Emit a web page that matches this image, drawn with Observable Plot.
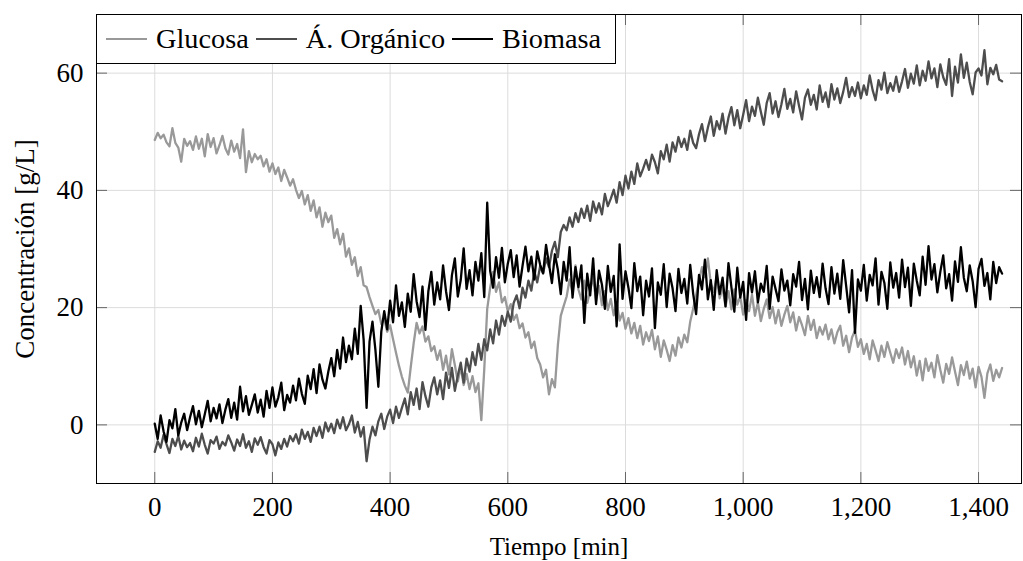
<!DOCTYPE html>
<html>
<head>
<meta charset="utf-8">
<script src="https://cdn.jsdelivr.net/npm/d3@7"></script>
<script src="https://cdn.jsdelivr.net/npm/@observablehq/plot@0.6"></script>
<style>
  html, body { margin: 0; padding: 0; background: #fff; }
  #wrap { position: relative; width: 1023px; height: 561px; }
  .legend {
    position: absolute; left: 96px; top: 14px; height: 50px; box-sizing: border-box;
    border: 1px solid #000; background: #fff; display: flex; align-items: center;
    padding: 0 14px 0 9px; font-family: "Liberation Serif", serif; font-size: 28.3px; color: #000;
    white-space: nowrap;
  }
  .legend .sw { display: inline-block; width: 41px; height: 2px; margin-right: 9px; }
  .legend .lab { margin-right: 7px; }
  .legend .lab:last-child { margin-right: 0; }
</style>
</head>
<body>
<div id="wrap"></div>
<script>
// ---- data (sampled every 5 min, 0..1440) ----
const glucosa = [
  48.6, 49.8, 48.9, 49.5, 48.2, 47.5, 50.6, 48.1, 47.3, 44.9, 48.8, 47.6,
  48.4, 46.9, 49.2, 47.1, 48.8, 45.8, 49.6, 47.4, 48.9, 46.3, 47.7, 49.3,
  47.2, 46.1, 48.5, 46.6, 47.9, 45.5, 50.4, 43.1, 46.7, 44.8, 46.2, 45.3,
  45.9, 44.1, 45.3, 43.2, 44.6, 42.8, 43.9, 41.6, 43.5, 42.2, 40.8, 41.9,
  40.1, 38.7, 39.9, 37.6, 39.2, 36.5, 38.3, 35.4, 37.1, 33.8, 36.2, 34.6,
  35.7, 31.9, 33.4, 30.8, 32.6, 28.7, 30.1, 27.3, 28.6, 25.4, 26.9, 23.8,
  23.5, 21.8, 20.3, 18.9, 19.6, 17.2, 18.1, 15.9, 17.0, 14.6, 12.3, 10.1,
  8.2, 6.7, 5.5, 9.8, 13.9, 17.4, 15.6, 16.8, 14.2, 15.1, 12.6, 13.4,
  11.1, 12.7, 9.4, 11.8, 8.6, 12.9, 10.2, 7.4, 9.9, 6.8, 8.7, 6.1,
  8.3, 5.6, 7.1, 0.8, 9.5, 19.8, 23.4, 26.1, 22.7, 24.3, 20.9, 21.8,
  19.4, 20.6, 17.9, 18.8, 16.5, 17.3, 14.9, 15.8, 13.1, 14.2, 11.4, 10.3,
  8.1, 9.4, 5.2, 7.8, 6.4, 13.5, 18.6, 20.3, 21.9, 24.8, 22.6, 27.2,
  23.1, 21.4, 24.6, 20.8, 22.9, 25.3, 21.2, 23.7, 20.4, 22.8, 19.6, 21.5,
  18.7, 20.9, 17.8, 19.1, 16.4, 18.2, 15.6, 17.4, 14.8, 16.9, 13.7, 15.8,
  14.3, 16.2, 12.9, 15.1, 11.6, 14.4, 12.8, 10.9, 13.6, 11.8, 14.9, 13.2,
  15.4, 14.1, 17.6, 19.8, 22.1, 24.6, 26.9, 25.2, 28.4, 24.1, 22.7, 25.3,
  21.6, 23.4, 20.2, 22.8, 19.7, 23.1, 20.5, 21.9, 18.8, 21.3, 19.4, 22.2,
  18.6, 20.9, 17.7, 19.8, 21.4, 18.2, 20.1, 17.3, 19.6, 16.9, 18.8, 20.3,
  17.5, 19.2, 16.1, 18.4, 17.0, 15.3, 18.6, 16.2, 17.9, 14.8, 16.7, 15.4,
  17.1, 14.6, 16.3, 13.9, 15.8, 16.9, 13.5, 15.2, 12.4, 14.9, 16.1, 13.3,
  14.6, 12.1, 13.8, 11.2, 14.4, 12.7, 10.9, 13.5, 11.6, 14.1, 12.3, 10.6,
  12.9, 11.4, 13.2, 10.3, 12.6, 9.8, 11.7, 8.4, 10.9, 7.6, 11.3, 9.2,
  10.6, 8.1, 11.9, 9.4, 7.2, 10.4, 8.7, 11.5, 9.1, 6.8, 10.2, 8.5,
  10.8, 7.9, 9.6, 6.4, 9.9, 8.2, 4.6, 8.8, 10.3, 7.5, 9.4, 8.1,
  9.7
];
const organico = [
  -4.6, -2.8, -3.9, -1.7, -3.3, -4.8, -2.4, -3.6, -1.9, -4.2, -2.7, -3.8,
  -3.1, -4.5, -2.2, -3.7, -1.5, -3.4, -4.9, -2.6, -3.2, -2.0, -4.1, -2.9,
  -3.5, -1.8, -3.0, -4.4, -2.5, -3.6, -1.6, -3.9, -2.8, -4.6, -2.3, -3.4,
  -2.1, -3.8, -4.9, -2.6, -3.3, -5.2, -3.0, -4.1, -2.4, -3.7, -1.9, -2.8,
  -1.6, -3.2, -0.8, -2.4, -1.2, -2.9, -0.5, -1.9, -0.3, -2.2, 0.4, -1.1,
  0.2, -1.4, 0.9, -0.6, 1.3, -0.9, 0.1, 1.6, -1.3, 0.5, -2.0, -0.4,
  -6.2, -2.5, -0.3, -1.8, 0.6, 1.9, -0.7, 1.4, 2.6, 0.3, 3.1, 1.2,
  2.9, 4.5, 1.8, 5.6, 3.4, 6.2, 2.7, 7.3, 4.9, 3.1, 6.4, 8.1,
  5.2, 7.6, 4.4, 8.9, 6.3, 9.7, 5.8, 8.4, 10.6, 7.2, 11.3, 9.1,
  12.4, 10.2, 13.8, 11.1, 14.6, 12.7, 16.3, 13.9, 17.8, 15.4, 18.6, 16.9,
  19.3, 17.6, 20.8, 22.1, 19.9, 23.4, 21.7, 24.6, 22.9, 26.2, 24.3, 27.1,
  25.8, 28.4, 26.9, 29.7, 31.2, 28.6, 32.9, 34.1, 33.2, 35.4, 33.8, 36.1,
  34.6, 36.9, 35.3, 37.4, 34.8, 38.1, 36.2, 37.8, 35.9, 39.4, 37.3, 38.6,
  40.1, 37.9, 41.4, 39.2, 42.5, 40.3, 43.2, 41.1, 44.6, 42.4, 43.7, 45.2,
  43.5, 46.1, 44.8, 42.9, 46.7, 45.3, 47.8, 44.9, 48.2, 46.6, 49.1, 47.4,
  48.8, 46.9, 50.2, 48.1, 47.2, 49.6, 51.3, 48.4, 50.7, 52.6, 49.3, 51.8,
  50.4, 53.1, 49.7, 52.4, 54.2, 51.1, 53.7, 50.6, 52.9, 55.4, 51.8, 54.3,
  52.7, 55.8, 53.4, 51.2, 54.9, 56.6, 53.1, 55.2, 52.5, 54.7, 57.3, 53.9,
  55.6, 53.3, 56.9, 54.4, 52.1, 55.8, 57.2, 54.6, 56.3, 53.8, 57.9, 55.1,
  56.7, 54.2, 58.1, 55.5, 57.4, 54.9, 56.8, 59.2, 55.9, 57.6, 56.1, 58.4,
  55.7, 57.9, 56.3, 59.6, 57.1, 55.4, 58.8, 57.2, 60.1, 56.6, 58.3, 57.0,
  59.4, 56.8, 58.6, 60.7, 57.5, 59.9, 58.2, 61.3, 57.9, 60.4, 58.7, 62.0,
  59.1, 60.8, 57.6, 61.5, 59.3, 58.0, 62.4, 56.1, 61.1, 58.4, 63.2, 59.2,
  61.8, 58.5, 56.4, 60.1, 60.8, 59.6, 63.9, 58.1, 60.9, 59.8, 61.4, 58.9,
  58.6
];
const biomasa = [
  0.2, -2.4, 1.6, -1.1, -2.9, 0.8, -0.6, 2.7, -1.8, 0.4, 1.9, -0.9,
  1.3, 3.2, 0.1, 2.4, -0.4, 1.8, 4.1, 0.6, 2.9, 1.1, 3.5, 0.3,
  2.6, 4.4, 1.2, 3.8, 0.9, 6.5, 2.3, 4.9, 1.7, 3.4, 5.2, 2.1,
  4.3, 1.4, 5.8, 2.9, 6.4, 3.1, 4.7, 7.2, 2.5, 5.1, 3.8, 6.7,
  4.2, 7.9, 5.3, 3.6, 8.4, 6.1, 9.5, 5.4, 10.3, 7.7, 6.2, 9.1,
  11.4, 8.3, 12.8, 9.6, 14.9, 10.7, 13.5, 11.2, 16.4, 12.1, 20.3, 14.5,
  2.9, 14.2, 17.6, 12.8, 6.5, 15.9, 19.4, 16.3, 21.2, 17.5, 23.8, 18.6,
  20.9, 16.7, 22.4, 19.3, 25.7, 21.1, 18.4, 23.6, 16.2, 22.8, 26.1, 20.5,
  24.3, 21.4, 27.2, 22.8, 19.6, 25.5, 28.4, 21.9, 24.7, 30.1, 23.2, 26.4,
  22.1, 27.8, 24.6, 29.3, 21.8, 37.9, 26.3, 23.4, 28.6, 25.1, 30.2, 24.3,
  27.5, 29.8, 25.2, 28.9, 23.6, 27.1, 30.4, 26.2, 28.7, 24.8, 29.6, 27.3,
  25.9, 30.7, 27.4, 24.2, 29.1, 26.5, 22.3, 27.8, 24.6, 30.3, 21.7, 26.9,
  23.5, 27.2, 17.4, 25.8, 22.1, 28.4, 20.6, 26.3, 23.9, 19.8, 27.1, 22.7,
  25.4, 16.8, 30.8, 21.5, 26.2, 23.4, 19.9, 27.6, 22.8, 25.3, 18.7, 24.6,
  21.9, 26.7, 16.5, 24.3, 22.2, 27.4, 20.1, 25.8, 23.3, 19.4, 26.6, 22.5,
  24.9, 20.7, 27.3, 22.4, 18.9, 25.6, 23.1, 28.2, 21.4, 24.7, 19.6, 26.4,
  22.3, 25.1, 20.2, 27.6, 23.5, 19.3, 26.8, 21.7, 24.4, 17.9, 25.9, 22.6,
  26.2, 20.9, 24.1, 22.7, 27.1, 19.8, 25.3, 23.2, 21.1, 26.5, 22.9, 24.6,
  20.4, 25.7, 23.6, 27.8, 21.3, 24.9, 19.7, 26.3, 22.5, 25.2, 21.8, 27.5,
  23.3, 20.6, 26.9, 22.4, 25.8, 21.5, 28.1, 23.7, 19.2, 26.4, 15.7, 24.8,
  22.9, 27.3, 21.2, 25.6, 23.8, 28.4, 20.5, 26.1, 24.2, 19.8, 27.7, 23.4,
  25.9, 21.7, 28.2, 23.5, 26.8, 20.3, 27.5, 24.6, 22.1, 28.7, 23.9, 30.5,
  24.8, 27.4, 22.6, 26.1, 28.9, 23.3, 25.7, 21.2, 27.9, 24.4, 30.3, 25.1,
  22.8, 27.2, 24.5, 20.1, 26.6, 28.3, 23.7, 25.9, 21.4, 27.8, 24.2, 26.9,
  25.8
];
const sampleStep = 5; // minutes between samples
const seriesNames = ["Glucosa", "Á. Orgánico", "Biomasa"];
const seriesColors = ["#999999", "#4d4d4d", "#000000"];
const xTicks = [0, 200, 400, 600, 800, 1000, 1200, 1400];
const yTicks = [0, 20, 40, 60];
const xLabel = "Tiempo [min]";
const yLabel = "Concentración [g/L]";

// ---- build long table ----
const seriesValues = [glucosa, organico, biomasa];
const rows = [];
seriesValues.forEach((vals, s) => {
  vals.forEach((v, i) => rows.push({t: i * sampleStep, v, serie: seriesNames[s]}));
});

const W = 1023, H = 561, mL = 96, mR = 2, mT = 14, mB = 78;
const plotW = W - mL - mR, plotH = H - mT - mB, tickLen = 11;
const font = "'Liberation Serif', serif";

const chart = Plot.plot({
  width: W, height: H,
  marginLeft: mL, marginRight: mR, marginTop: mT, marginBottom: mB,
  style: {fontFamily: font, fontSize: "27px", background: "#fff", color: "#000", overflow: "visible"},
  x: {domain: [-99, 1473], label: null},
  y: {domain: [-10, 70], label: null},
  color: {domain: seriesNames, range: seriesColors},
  marks: [
    Plot.gridX(xTicks, {stroke: "#dcdcdc", strokeOpacity: 1, strokeWidth: 1}),
    Plot.gridY(yTicks, {stroke: "#dcdcdc", strokeOpacity: 1, strokeWidth: 1}),
    Plot.tickX(xTicks, {x: d => d, stroke: "#666", insetTop: plotH - tickLen}),
    Plot.tickX(xTicks, {x: d => d, stroke: "#666", insetBottom: plotH - tickLen}),
    Plot.tickY(yTicks, {y: d => d, stroke: "#666", insetRight: plotW - tickLen}),
    Plot.tickY(yTicks, {y: d => d, stroke: "#666", insetLeft: plotW - tickLen}),
    Plot.lineY(rows, {x: "t", y: "v", z: "serie", stroke: "serie", strokeWidth: 2.3, strokeLinejoin: "round"}),
    Plot.frame({stroke: "#000", strokeWidth: 1}),
    Plot.axisX(xTicks, {tickSize: 0, tickPadding: 13, tickFormat: d => d3.format(",")(d), fontSize: 27, label: null}),
    Plot.axisY(yTicks, {tickSize: 0, tickPadding: 13, fontSize: 27, label: null}),
    Plot.text([xLabel], {frameAnchor: "bottom", dy: 63, lineAnchor: "middle", textAnchor: "middle", fontSize: 25}),
    Plot.text([yLabel], {frameAnchor: "left", dx: -(mL - 25), rotate: -90, lineAnchor: "middle", textAnchor: "middle", fontSize: 27})
  ]
});

const wrap = document.getElementById("wrap");
wrap.appendChild(chart);

const legend = document.createElement("div");
legend.className = "legend";
seriesNames.forEach((name, i) => {
  const sw = document.createElement("span");
  sw.className = "sw";
  sw.style.background = seriesColors[i];
  const lab = document.createElement("span");
  lab.className = "lab";
  lab.textContent = name;
  legend.appendChild(sw);
  legend.appendChild(lab);
});
wrap.appendChild(legend);
</script>
</body>
</html>
